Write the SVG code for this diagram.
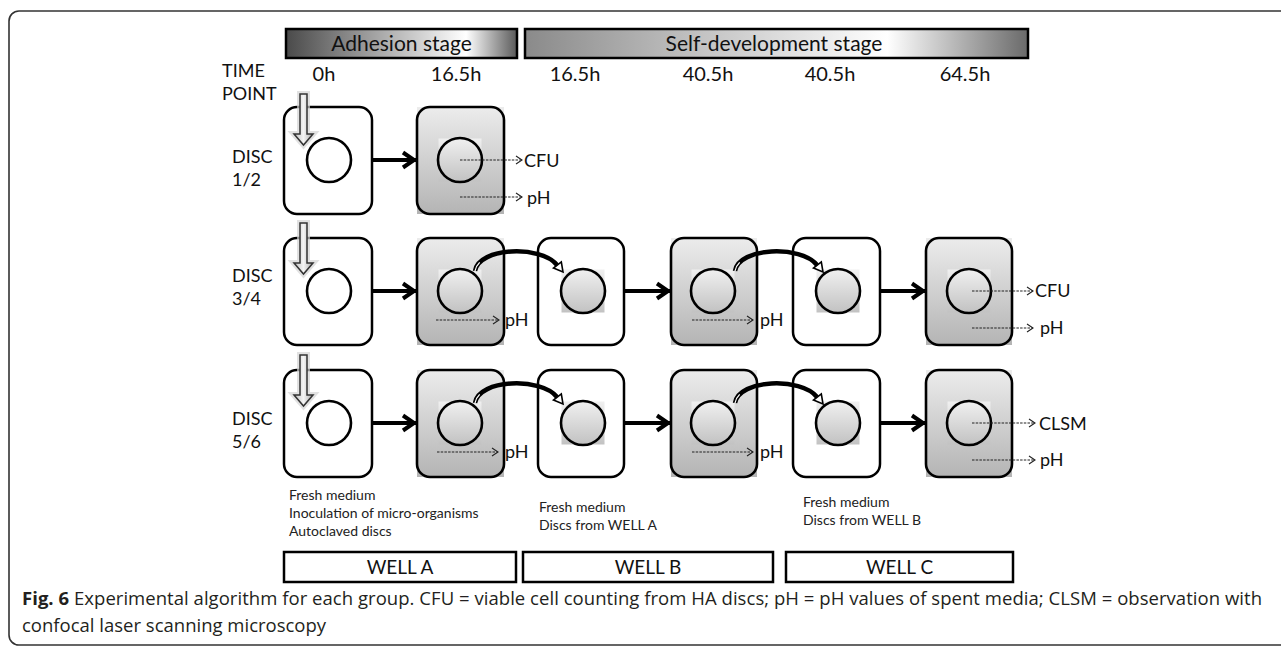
<svg xmlns="http://www.w3.org/2000/svg" width="1281" height="651" viewBox="0 0 1281 651">
<defs>
  <linearGradient id="gStageA" x1="0" y1="0" x2="1" y2="0">
    <stop offset="0" stop-color="#4a4a4a"/><stop offset="0.78" stop-color="#ffffff"/><stop offset="1" stop-color="#5a5a5a"/>
  </linearGradient>
  <linearGradient id="gStageB" x1="0" y1="0" x2="1" y2="0">
    <stop offset="0" stop-color="#8a8a8a"/><stop offset="0.72" stop-color="#ffffff"/><stop offset="1" stop-color="#6a6a6a"/>
  </linearGradient>
  <linearGradient id="gBox" x1="0" y1="0" x2="0" y2="1">
    <stop offset="0" stop-color="#ececec"/><stop offset="1" stop-color="#b4b4b4"/>
  </linearGradient>
  <linearGradient id="gSq" x1="0" y1="0" x2="0" y2="1">
    <stop offset="0" stop-color="#f0f0f0"/><stop offset="1" stop-color="#c2c2c2"/>
  </linearGradient>
  <linearGradient id="gDown" x1="0" y1="0" x2="1" y2="0">
    <stop offset="0" stop-color="#bdbdbd"/><stop offset="0.5" stop-color="#f4f4f4"/><stop offset="1" stop-color="#a8a8a8"/>
  </linearGradient>
  <marker id="mThick" markerUnits="userSpaceOnUse" viewBox="-16 -10 20 20" markerWidth="20" markerHeight="20" refX="0" refY="0" orient="auto" overflow="visible">
    <path d="M-13,-7.5 L-2,0 L-13,7.5" fill="none" stroke="#000" stroke-width="4"/>
  </marker>
  <marker id="mDash" markerUnits="userSpaceOnUse" viewBox="-8 -6 10 12" markerWidth="10" markerHeight="12" refX="0" refY="0" orient="auto" overflow="visible">
    <path d="M-6,-4 L0,0 L-6,4" fill="none" stroke="#222" stroke-width="1.1"/>
  </marker>
  <g id="curveTpl">
    <path d="M0,0 C4,-24 66,-26 82,-6" fill="none" stroke="#000" stroke-width="4.5"/>
    <path d="M0,0 C4,-24 66,-26 82,-6" fill="none" stroke="#fff" stroke-width="1.3" stroke-dasharray="10 300"/>
    <path d="M86.3,-9.1 L88,1 L78.5,-2.9 Z" fill="#fff" stroke="#000" stroke-width="1.6" stroke-linejoin="miter"/>
  </g>
  <g id="downTpl">
    <path d="M-3.5,-51 H3.5 V-11 H9.5 L0,0 L-9.5,-11 H-3.5 Z" fill="none" stroke="#d4d4d4" stroke-width="6" opacity="0.7"/>
    <path d="M-3.5,-51 H3.5 V-11 H9.5 L0,0 L-9.5,-11 H-3.5 Z" fill="url(#gDown)" stroke="#333" stroke-width="1.5"/>
  </g>
</defs>
<style>
  .t{font-family:Lato,"Open Sans","Liberation Sans",sans-serif;fill:#111}
  .stage{font-size:21px}
  .time{font-size:20px}
  .lbl{font-size:18px}
  .note{font-size:14px;fill:#222}
  .well{font-size:19px}
  .cap{font-family:"Open Sans","Liberation Sans",sans-serif;font-size:18.5px;fill:#231f20}
  .frame{fill:none;stroke:#333;stroke-width:1.6}
  .bar{stroke:#000;stroke-width:2.5}
  .wbox{fill:#fff;stroke:#000;stroke-width:2.5}
  .gfill{fill:url(#gBox)}
  .edge{fill:none;stroke:#000;stroke-width:2.6}
  .sq{fill:url(#gSq)}
  .circ{fill:none;stroke:#000;stroke-width:2.6}
  .circw{fill:#fff;stroke:#000;stroke-width:2.6}
  .thick{fill:none;stroke:#000;stroke-width:4;marker-end:url(#mThick)}
  .dash{fill:none;stroke:#222;stroke-width:1.1;stroke-dasharray:2.5 1.2;marker-end:url(#mDash)}
</style>

<rect class="frame" x="9" y="11" width="1290" height="634" rx="10"/>

<g id="stages">
  <rect class="bar" x="286" y="29" width="231" height="29" fill="url(#gStageA)"/>
  <text class="t stage" x="401.5" y="51" text-anchor="middle">Adhesion stage</text>
  <rect class="bar" x="525" y="29" width="503" height="29" fill="url(#gStageB)"/>
  <text class="t stage" x="774" y="51" text-anchor="middle">Self-development stage</text>
</g>

<g id="timepoints">
  <text class="t lbl" x="222" y="77">TIME</text>
  <text class="t lbl" x="222" y="100">POINT</text>
  <text class="t time" x="324" y="81" text-anchor="middle">0h</text>
  <text class="t time" x="456" y="81" text-anchor="middle">16.5h</text>
  <text class="t time" x="575" y="81" text-anchor="middle">16.5h</text>
  <text class="t time" x="708" y="81" text-anchor="middle">40.5h</text>
  <text class="t time" x="830" y="81" text-anchor="middle">40.5h</text>
  <text class="t time" x="965" y="81" text-anchor="middle">64.5h</text>
</g>

<g id="row-labels">
  <text class="t lbl" x="232" y="163">DISC</text>
  <text class="t lbl" x="232" y="186">1/2</text>
  <text class="t lbl" x="232" y="282">DISC</text>
  <text class="t lbl" x="232" y="305">3/4</text>
  <text class="t lbl" x="232" y="425">DISC</text>
  <text class="t lbl" x="232" y="448">5/6</text>
</g>

<!-- Row 1 -->
<g id="r1c1"><rect class="wbox" x="284" y="107" width="88" height="107" rx="13"/><circle class="circw" cx="329" cy="160" r="22"/></g>
<g id="r1c2"><rect class="gfill" x="417" y="107" width="87" height="107"/><rect class="edge" x="417" y="107" width="87" height="107" rx="13"/><rect class="sq" x="438.5" y="138.5" width="43" height="43"/><circle class="circ" cx="460" cy="160" r="22"/></g>

<!-- Row 2 -->
<g id="r2c1"><rect class="wbox" x="284" y="238" width="88" height="107" rx="13"/><circle class="circw" cx="329" cy="291" r="22"/></g>
<g id="r2c2"><rect class="gfill" x="417" y="238" width="87" height="107"/><rect class="edge" x="417" y="238" width="87" height="107" rx="13"/><rect class="sq" x="438.5" y="269.5" width="43" height="43"/><circle class="circ" cx="460" cy="291" r="22"/></g>
<g id="r2c3"><rect class="wbox" x="538" y="238" width="86" height="107" rx="13"/><rect class="sq" x="561.5" y="269.5" width="43" height="43"/><circle class="circ" cx="583" cy="291" r="22"/></g>
<g id="r2c4"><rect class="gfill" x="671" y="238" width="86" height="107"/><rect class="edge" x="671" y="238" width="86" height="107" rx="13"/><rect class="sq" x="691.5" y="269.5" width="43" height="43"/><circle class="circ" cx="713" cy="291" r="22"/></g>
<g id="r2c5"><rect class="wbox" x="793" y="238" width="87" height="107" rx="13"/><rect class="sq" x="816.5" y="269.5" width="43" height="43"/><circle class="circ" cx="838" cy="291" r="22"/></g>
<g id="r2c6"><rect class="gfill" x="926" y="238" width="86" height="107"/><rect class="edge" x="926" y="238" width="86" height="107" rx="13"/><rect class="sq" x="947.5" y="269.5" width="43" height="43"/><circle class="circ" cx="969" cy="291" r="22"/></g>

<!-- Row 3 -->
<g id="r3c1"><rect class="wbox" x="284" y="370" width="88" height="107" rx="13"/><circle class="circw" cx="329" cy="423" r="22"/></g>
<g id="r3c2"><rect class="gfill" x="417" y="370" width="87" height="107"/><rect class="edge" x="417" y="370" width="87" height="107" rx="13"/><rect class="sq" x="438.5" y="401.5" width="43" height="43"/><circle class="circ" cx="460" cy="423" r="22"/></g>
<g id="r3c3"><rect class="wbox" x="538" y="370" width="86" height="107" rx="13"/><rect class="sq" x="561.5" y="401.5" width="43" height="43"/><circle class="circ" cx="583" cy="423" r="22"/></g>
<g id="r3c4"><rect class="gfill" x="671" y="370" width="86" height="107"/><rect class="edge" x="671" y="370" width="86" height="107" rx="13"/><rect class="sq" x="691.5" y="401.5" width="43" height="43"/><circle class="circ" cx="713" cy="423" r="22"/></g>
<g id="r3c5"><rect class="wbox" x="793" y="370" width="87" height="107" rx="13"/><rect class="sq" x="816.5" y="401.5" width="43" height="43"/><circle class="circ" cx="838" cy="423" r="22"/></g>
<g id="r3c6"><rect class="gfill" x="926" y="370" width="86" height="107"/><rect class="edge" x="926" y="370" width="86" height="107" rx="13"/><rect class="sq" x="947.5" y="401.5" width="43" height="43"/><circle class="circ" cx="969" cy="423" r="22"/></g>

<g id="connectors">
  <use href="#downTpl" x="303.5" y="145"/>
  <use href="#downTpl" x="303.5" y="274"/>
  <use href="#downTpl" x="303.5" y="406"/>
  <path class="thick" d="M372,160 H416"/>
  <path class="thick" d="M372,291 H416"/>
  <path class="thick" d="M624,291 H670"/>
  <path class="thick" d="M880,291 H925"/>
  <path class="thick" d="M372,423 H416"/>
  <path class="thick" d="M624,423 H670"/>
  <path class="thick" d="M880,423 H925"/>
  <use href="#curveTpl" x="475" y="271"/>
  <use href="#curveTpl" x="735" y="271"/>
  <use href="#curveTpl" x="475" y="403"/>
  <use href="#curveTpl" x="735" y="403"/>
  <path class="dash" d="M460,160 H522"/>
  <path class="dash" d="M460,197 H522"/>
  <path class="dash" d="M436,320 H499"/>
  <path class="dash" d="M692,320 H753"/>
  <path class="dash" d="M972,291 H1033"/>
  <path class="dash" d="M972,328 H1033"/>
  <path class="dash" d="M437,452 H498"/>
  <path class="dash" d="M692,452 H753"/>
  <path class="dash" d="M972,423 H1035"/>
  <path class="dash" d="M972,460 H1035"/>
</g>

<g id="outputs">
  <text class="t lbl" x="524" y="167">CFU</text>
  <text class="t lbl" x="527" y="204">pH</text>
  <text class="t lbl" x="505" y="326">pH</text>
  <text class="t lbl" x="760" y="326">pH</text>
  <text class="t lbl" x="1035" y="297">CFU</text>
  <text class="t lbl" x="1040" y="334">pH</text>
  <text class="t lbl" x="505" y="458">pH</text>
  <text class="t lbl" x="760" y="458">pH</text>
  <text class="t lbl" x="1039" y="430">CLSM</text>
  <text class="t lbl" x="1040" y="466">pH</text>
</g>

<g id="notes">
  <text class="t note" x="289" y="500">Fresh medium</text>
  <text class="t note" x="289" y="518">Inoculation of micro-organisms</text>
  <text class="t note" x="289" y="536">Autoclaved discs</text>
  <text class="t note" x="539" y="512">Fresh medium</text>
  <text class="t note" x="539" y="530">Discs from WELL A</text>
  <text class="t note" x="803" y="507">Fresh medium</text>
  <text class="t note" x="803" y="525">Discs from WELL B</text>
</g>

<g id="well-a"><rect class="wbox" x="284" y="552" width="232" height="30"/><text class="t well" x="400" y="574" text-anchor="middle">WELL A</text></g>
<g id="well-b"><rect class="wbox" x="523" y="552" width="250" height="30"/><text class="t well" x="648" y="574" text-anchor="middle">WELL B</text></g>
<g id="well-c"><rect class="wbox" x="786" y="552" width="227" height="30"/><text class="t well" x="899.5" y="574" text-anchor="middle">WELL C</text></g>

<g id="caption">
  <text class="cap" x="22" y="605" textLength="1240" lengthAdjust="spacing"><tspan font-weight="bold">Fig. 6</tspan> Experimental algorithm for each group. CFU = viable cell counting from HA discs; pH = pH values of spent media; CLSM = observation with</text>
  <text class="cap" x="22" y="632">confocal laser scanning microscopy</text>
</g>
</svg>
